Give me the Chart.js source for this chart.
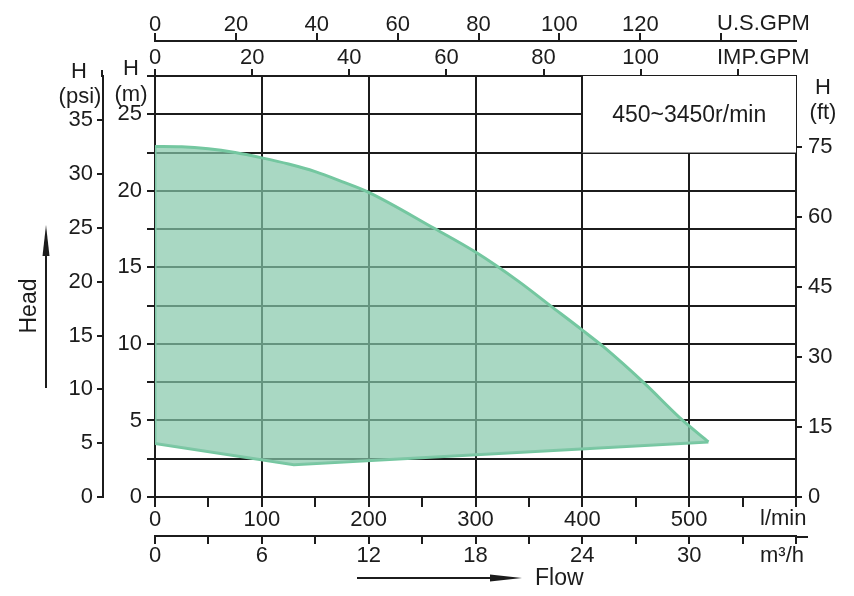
<!DOCTYPE html>
<html><head><meta charset="utf-8">
<script src="https://cdn.jsdelivr.net/npm/chart.js@4/dist/chart.umd.min.js"></script>
<style>html,body{margin:0;padding:0;background:#fff}canvas{display:block}</style>
</head>
<body><canvas id="c" width="854" height="596"></canvas>
<script>
// ---- data ----
const upperFlow = [0, 25, 50, 75, 100, 125, 150, 175, 200, 260, 300, 340, 370, 400, 420, 457, 494, 518];
const upperHead = [22.9, 22.88, 22.75, 22.5, 22.15, 21.75, 21.25, 20.6, 19.9, 17.6, 16.0, 14.1, 12.5, 10.9, 9.8, 7.5, 5.0, 3.6];
const lowerFlow = [0, 130, 518];
const lowerHead = [3.5, 2.1, 3.6];

// ---- tick values and labels ----
const lpmTicks  = [0, 50, 100, 150, 200, 250, 300, 350, 400, 450, 500, 550, 600];
const lpmLabels = ['0', '', '100', '', '200', '', '300', '', '400', '', '500', '', ''];
const m3hTicks  = [0, 3, 6, 9, 12, 15, 18, 21, 24, 27, 30, 33, 36];
const m3hLabels = ['0', '', '6', '', '12', '', '18', '', '24', '', '30', '', ''];
const headMTicks  = [0, 2.5, 5, 7.5, 10, 12.5, 15, 17.5, 20, 22.5, 25, 27.5];
const headMLabels = ['0', '', '5', '', '10', '', '15', '', '20', '', '25', ''];
const psiTicks  = [0, 5, 10, 15, 20, 25, 30, 35];
const psiLabels = ['0', '5', '10', '15', '20', '25', '30', '35'];
const ftTicks   = [0, 15, 30, 45, 60, 75];
const ftLabels  = ['0', '15', '30', '45', '60', '75'];
const usTicks   = [0, 20, 40, 60, 80, 100, 120, 140];
const usLabels  = ['0', '20', '40', '60', '80', '100', '120', ''];
const impTicks  = [0, 20, 40, 60, 80, 100, 120];
const impLabels = ['0', '20', '40', '60', '80', '100', ''];
const unitNames = {us: 'U.S.GPM', imp: 'IMP.GPM', lpm: 'l/min', m3h: 'm³/h'};
const speedText = '450~3450r/min';

// ---- unit conversions ----
const FLOW_MAX = 600, HEAD_MAX = 27.5;
const M_PER_PSI = 0.70307, M_PER_FT = 0.3048;
const LPM_PER_USGAL = 3.78541, LPM_PER_IMPGAL = 4.54609, LPM_PER_M3H = 1000 / 60;

const ink = '#1c1c1c';
const FONT = "'Liberation Sans', Arial, sans-serif";
const tickFont = {family: FONT, size: 22};

function pts(xs, ys) { return xs.map((x, i) => ({x, y: ys[i]})); }

function axis(extra) {
  const {values, labels, fitW, fitH, tickLength, padding, gridColor, onArea} = extra;
  return {
    type: 'linear',
    afterBuildTicks: s => { s.ticks = values.map(v => ({value: v})); },
    afterFit: s => { if (fitW !== undefined) s.width = fitW; if (fitH !== undefined) s.height = fitH; },
    grid: {
      drawOnChartArea: !!onArea,
      color: gridColor || ink,
      lineWidth: 2,
      tickLength: tickLength,
      tickColor: ink,
      tickWidth: 2
    },
    border: {display: true, color: ink, width: 2},
    ticks: {
      font: tickFont, color: ink, padding: padding,
      autoSkip: false, maxRotation: 0, minRotation: 0,
      callback: (v, i) => labels[i]
    }
  };
}

const overlay = {
  id: 'overlay',
  beforeDatasetsDraw(chart) {
    const {ctx} = chart;
    const x = chart.scales.x, y = chart.scales.y;
    const x0 = x.getPixelForValue(400), x1 = x.getPixelForValue(600);
    const y0 = y.getPixelForValue(27.5), y1 = y.getPixelForValue(22.5);
    ctx.save();
    ctx.fillStyle = '#fff';
    ctx.fillRect(x0, y0, x1 - x0, y1 - y0);
    ctx.strokeStyle = ink; ctx.lineWidth = 2;
    ctx.beginPath();
    ctx.moveTo(Math.round(x0), y0); ctx.lineTo(Math.round(x0), y1);
    ctx.stroke();
    ctx.fillStyle = ink;
    ctx.font = '23px ' + FONT;
    ctx.textAlign = 'center'; ctx.textBaseline = 'middle';
    ctx.fillText(speedText, (x0 + x1) / 2, (y0 + y1) / 2 + 1);
    ctx.restore();
  },
  afterDraw(chart) {
    const {ctx, chartArea: ca} = chart;
    ctx.save();
    ctx.fillStyle = ink; ctx.strokeStyle = ink;
    // axis line extensions
    ctx.lineWidth = 2;
    const psi = chart.scales.psi, m3h = chart.scales.m3h;
    ctx.beginPath();
    ctx.moveTo(Math.round(psi.right) - 1, ca.top - 6); ctx.lineTo(Math.round(psi.right) - 1, ca.top + 1);
    ctx.moveTo(ca.right, Math.round(m3h.top) + 1); ctx.lineTo(ca.right + 12, Math.round(m3h.top) + 1);
    ctx.stroke();
    // unit labels
    ctx.font = '22px ' + FONT;
    ctx.textAlign = 'left'; ctx.textBaseline = 'middle';
    ctx.fillText(unitNames.us, ca.right - 79, 24);
    ctx.fillText(unitNames.imp, ca.right - 79, 58);
    ctx.fillText(unitNames.lpm, ca.right - 36, 519);
    ctx.fillText(unitNames.m3h, ca.right - 36, 556);
    // H labels
    ctx.textAlign = 'center';
    ctx.fillText('H', 79, 72); ctx.fillText('(psi)', 80, 97);
    ctx.fillText('H', 131, 69); ctx.fillText('(m)', 131, 95);
    ctx.fillText('H', 823, 88); ctx.fillText('(ft)', 823, 113);
    // Head arrow
    ctx.lineWidth = 2;
    ctx.beginPath(); ctx.moveTo(46, 388); ctx.lineTo(46, 250); ctx.stroke();
    ctx.beginPath(); ctx.moveTo(46, 225); ctx.lineTo(49.5, 256); ctx.lineTo(42.5, 256); ctx.closePath(); ctx.fill();
    ctx.save();
    ctx.translate(30, 306); ctx.rotate(-Math.PI / 2);
    ctx.font = '23px ' + FONT; ctx.textAlign = 'center'; ctx.textBaseline = 'middle';
    ctx.fillText('Head', 0, 0);
    ctx.restore();
    // Flow arrow
    ctx.beginPath(); ctx.moveTo(357, 578); ctx.lineTo(495, 578); ctx.stroke();
    ctx.beginPath(); ctx.moveTo(522, 578); ctx.lineTo(490, 574.5); ctx.lineTo(490, 581.5); ctx.closePath(); ctx.fill();
    ctx.font = '23px ' + FONT; ctx.textAlign = 'left'; ctx.textBaseline = 'middle';
    ctx.fillText('Flow', 535, 579);
    ctx.restore();
  }
};

const fillColor = 'rgba(133,199,170,0.70)';
const edgeColor = '#74c7a0';

new Chart(document.getElementById('c'), {
  type: 'scatter',
  data: {
    datasets: [
      {data: pts(upperFlow, upperHead), showLine: true, fill: '+1', backgroundColor: fillColor,
       borderColor: edgeColor, borderWidth: 3, pointRadius: 0, cubicInterpolationMode: 'monotone'},
      {data: pts(lowerFlow, lowerHead), showLine: true, fill: false,
       borderColor: edgeColor, borderWidth: 3, pointRadius: 0, tension: 0},
      {data: [{x: lowerFlow[0], y: lowerHead[0]}, {x: upperFlow[0], y: upperHead[0]}], showLine: true, fill: false,
       borderColor: edgeColor, borderWidth: 3, pointRadius: 0}
    ]
  },
  options: {
    responsive: false, animation: false, devicePixelRatio: 1,
    layout: {padding: {left: 30, right: 8, top: 0, bottom: 26}},
    plugins: {legend: {display: false}, tooltip: {enabled: false}},
    scales: {
      x: Object.assign(axis({values: lpmTicks, labels: lpmLabels, fitH: 39, tickLength: 10, padding: 0, onArea: true,
        gridColor: c => (c.tick && c.tick.value % 100 === 0) ? ink : 'rgba(0,0,0,0)'}),
        {position: 'bottom', min: 0, max: FLOW_MAX, weight: 1}),
      m3h: Object.assign(axis({values: m3hTicks, labels: m3hLabels, fitH: 34, tickLength: 8, padding: -1}),
        {axis: 'x', position: 'bottom', min: 0, max: FLOW_MAX / LPM_PER_M3H, weight: 2}),
      y: Object.assign(axis({values: headMTicks, labels: headMLabels, fitW: 52, tickLength: 8, padding: 5, onArea: true}),
        {position: 'left', min: 0, max: HEAD_MAX, weight: 1}),
      psi: Object.assign(axis({values: psiTicks, labels: psiLabels, fitW: 73, tickLength: 6, padding: 4}),
        {axis: 'y', position: 'left', min: 0, max: HEAD_MAX / M_PER_PSI, weight: 2}),
      ft: Object.assign(axis({values: ftTicks, labels: ftLabels, fitW: 50, tickLength: 6, padding: 6}),
        {axis: 'y', position: 'right', min: 0, max: HEAD_MAX / M_PER_FT, weight: 1}),
      imp: Object.assign(axis({values: impTicks, labels: impLabels, fitH: 35, tickLength: 7, padding: -2}),
        {axis: 'x', position: 'top', min: 0, max: FLOW_MAX / LPM_PER_IMPGAL, weight: 1}),
      us: Object.assign(axis({values: usTicks, labels: usLabels, fitH: 41, tickLength: 8, padding: -5}),
        {axis: 'x', position: 'top', min: 0, max: FLOW_MAX / LPM_PER_USGAL, weight: 2})
    }
  },
  plugins: [overlay]
});
</script>
</body></html>
